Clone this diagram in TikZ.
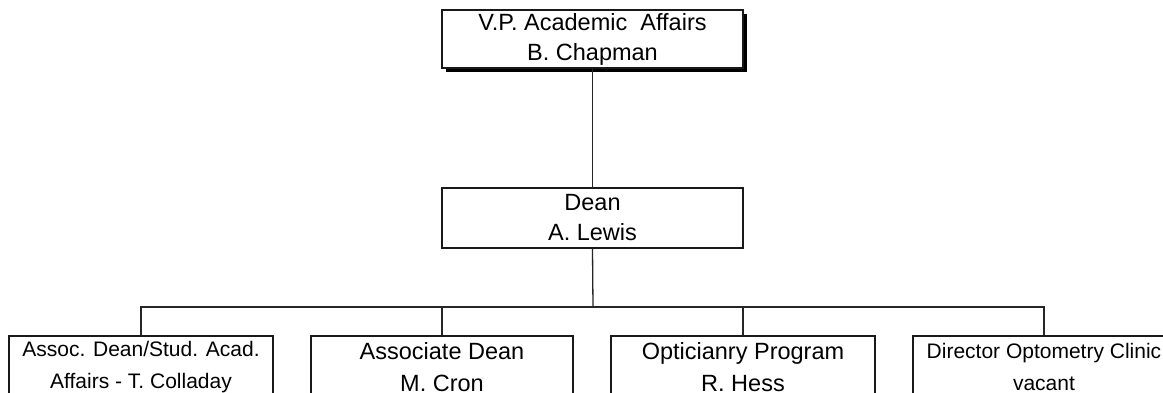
\documentclass[tikz,border=0pt]{standalone}
\usepackage{fontspec}
\setmainfont{Liberation Sans}
\usetikzlibrary{shadows}
\begin{document}
\begin{tikzpicture}[x=1pt,y=-1pt,
  box/.style={draw=black!90, line width=1.3pt, fill=white, align=center, inner sep=0pt,
    font=\fontsize{23.5}{30}\selectfont},
  small/.style={font=\fontsize{21}{32}\selectfont},
  big/.style={font=\fontsize{23.5}{32}\selectfont},
  link/.style={draw=black!85, line width=1.3pt},
  shadowed/.style={drop shadow={shadow xshift=3.5pt, shadow yshift=-4pt, fill=black, opacity=1}}]
\useasboundingbox (0,0) rectangle (1163,393);
\clip (0,0) rectangle (1163,393);
\fill[white] (0,0) rectangle (1163,393);
\node[box, shadowed, minimum width=301pt, minimum height=58pt] (vp) at (592.5,39)
  {V.P. Academic\ \ Affairs\\B. Chapman};
\node[box, minimum width=301pt, minimum height=60pt] (dean) at (592.5,218)
  {Dean\\A. Lewis};
\coordinate (bus) at (593,307);
\node[box, small, minimum width=264pt, minimum height=62pt] (b1) at (141,367)
  {Assoc. Dean/Stud. Acad.\\Affairs - T. Colladay};
\node[box, big, minimum width=262pt, minimum height=62pt] (b2) at (442,367)
  {Associate Dean\\M. Cron};
\node[box, big, minimum width=264pt, minimum height=62pt] (b3) at (743,367)
  {Opticianry Program\\R. Hess};
\node[box, small, minimum width=262pt, minimum height=62pt] (b4) at (1044,367)
  {Director Optometry Clinic\\vacant};
\draw[link] (vp.south) -- (dean.north);
\draw[link] (dean.south) -- (bus);
\draw[link] (b1.north) |- (bus) -| (b4.north);
\draw[link] (b2.north) |- (bus);
\draw[link] (b3.north) |- (bus);
\end{tikzpicture}
\end{document}
